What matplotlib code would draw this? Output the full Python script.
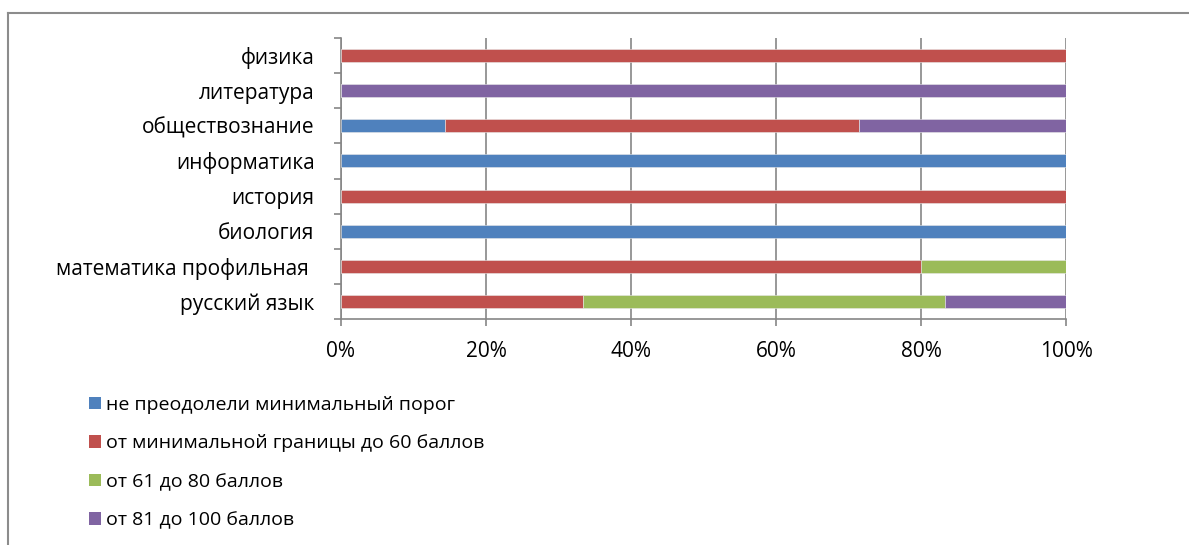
import matplotlib
matplotlib.use("Agg")
import matplotlib.pyplot as plt
import numpy as np
from matplotlib.patches import Patch
from matplotlib.lines import Line2D

categories = ["русский язык", "математика профильная ", "биология", "история",
              "информатика", "обществознание", "литература", "физика"]
series_names = ["не преодолели минимальный порог",
                "от минимальной границы до 60 баллов",
                "от 61 до 80 баллов",
                "от 81 до 100 баллов"]
# counts per category (converted to shares)
not_passed = [0, 0, 1, 0, 1, 1, 0, 0]
to_60 =      [2, 4, 0, 1, 0, 4, 0, 1]
from_61 =    [3, 1, 0, 0, 0, 0, 0, 0]
from_81 =    [1, 0, 0, 0, 0, 2, 1, 0]
colors = ["#4F81BD", "#C0504D", "#9BBB59", "#8064A2"]
xtick_labels = ["0%", "20%", "40%", "60%", "80%", "100%"]

plt.rcParams['font.family'] = ['Open Sans', 'DejaVu Sans']

W, H = 1189, 545
fig = plt.figure(figsize=(W/100, H/100), dpi=100)
ax = fig.add_axes([341/W, 1-319/H, (1066-341)/W, (319-38)/H])

data = np.array([not_passed, to_60, from_61, from_81], dtype=float)
totals = data.sum(axis=0)
shares = data / totals

y = np.arange(len(categories))
left = np.zeros(len(categories))
for i in range(4):
    ax.barh(y, shares[i], left=left, height=0.37, color=colors[i],
            edgecolor="#e8e8e8", linewidth=0.4, zorder=3)
    left += shares[i]

ax.set_xlim(0, 1)
ax.set_ylim(-0.5, len(categories)-0.5)
ax.set_xticks(np.linspace(0, 1, 6))
ax.set_xticklabels(xtick_labels, fontsize=15, color="#000000")
ax.set_yticks(y)
ax.set_yticklabels(categories, fontsize=15, color="#000000")
ax.set_yticks(np.arange(-0.5, len(categories), 1), minor=True)
ax.tick_params(axis='y', which='major', length=0, pad=19)
ax.tick_params(axis='y', which='minor', length=5, width=1.2, color="#868686", direction='out')
ax.tick_params(axis='x', which='major', length=5, width=1.2, color="#868686", direction='out', pad=11)
ax.grid(axis='x', color="#868686", linewidth=1.2, zorder=0)
ax.set_axisbelow(True)
for s in ["top", "right"]:
    ax.spines[s].set_visible(False)
for s in ["left", "bottom"]:
    ax.spines[s].set_color("#868686")
    ax.spines[s].set_linewidth(1.2)

handles = [Patch(facecolor=c, edgecolor='none') for c in colors]
fig.legend(handles, series_names, loc='upper left',
           bbox_to_anchor=(89/W, 1-396/H), frameon=False, fontsize=14,
           handlelength=0.6, handleheight=0.6, handletextpad=0.25,
           labelspacing=1.05, borderpad=0, borderaxespad=0)

# outer frame (chart area border)
fig.add_artist(Line2D([8/W, 8/W], [0, 1-13/H], transform=fig.transFigure,
                      color="#8c8c8c", linewidth=1.5))
fig.add_artist(Line2D([8/W, 1], [1-13/H, 1-13/H], transform=fig.transFigure,
                      color="#8c8c8c", linewidth=1.5))

fig.savefig("out.png", dpi=100)
